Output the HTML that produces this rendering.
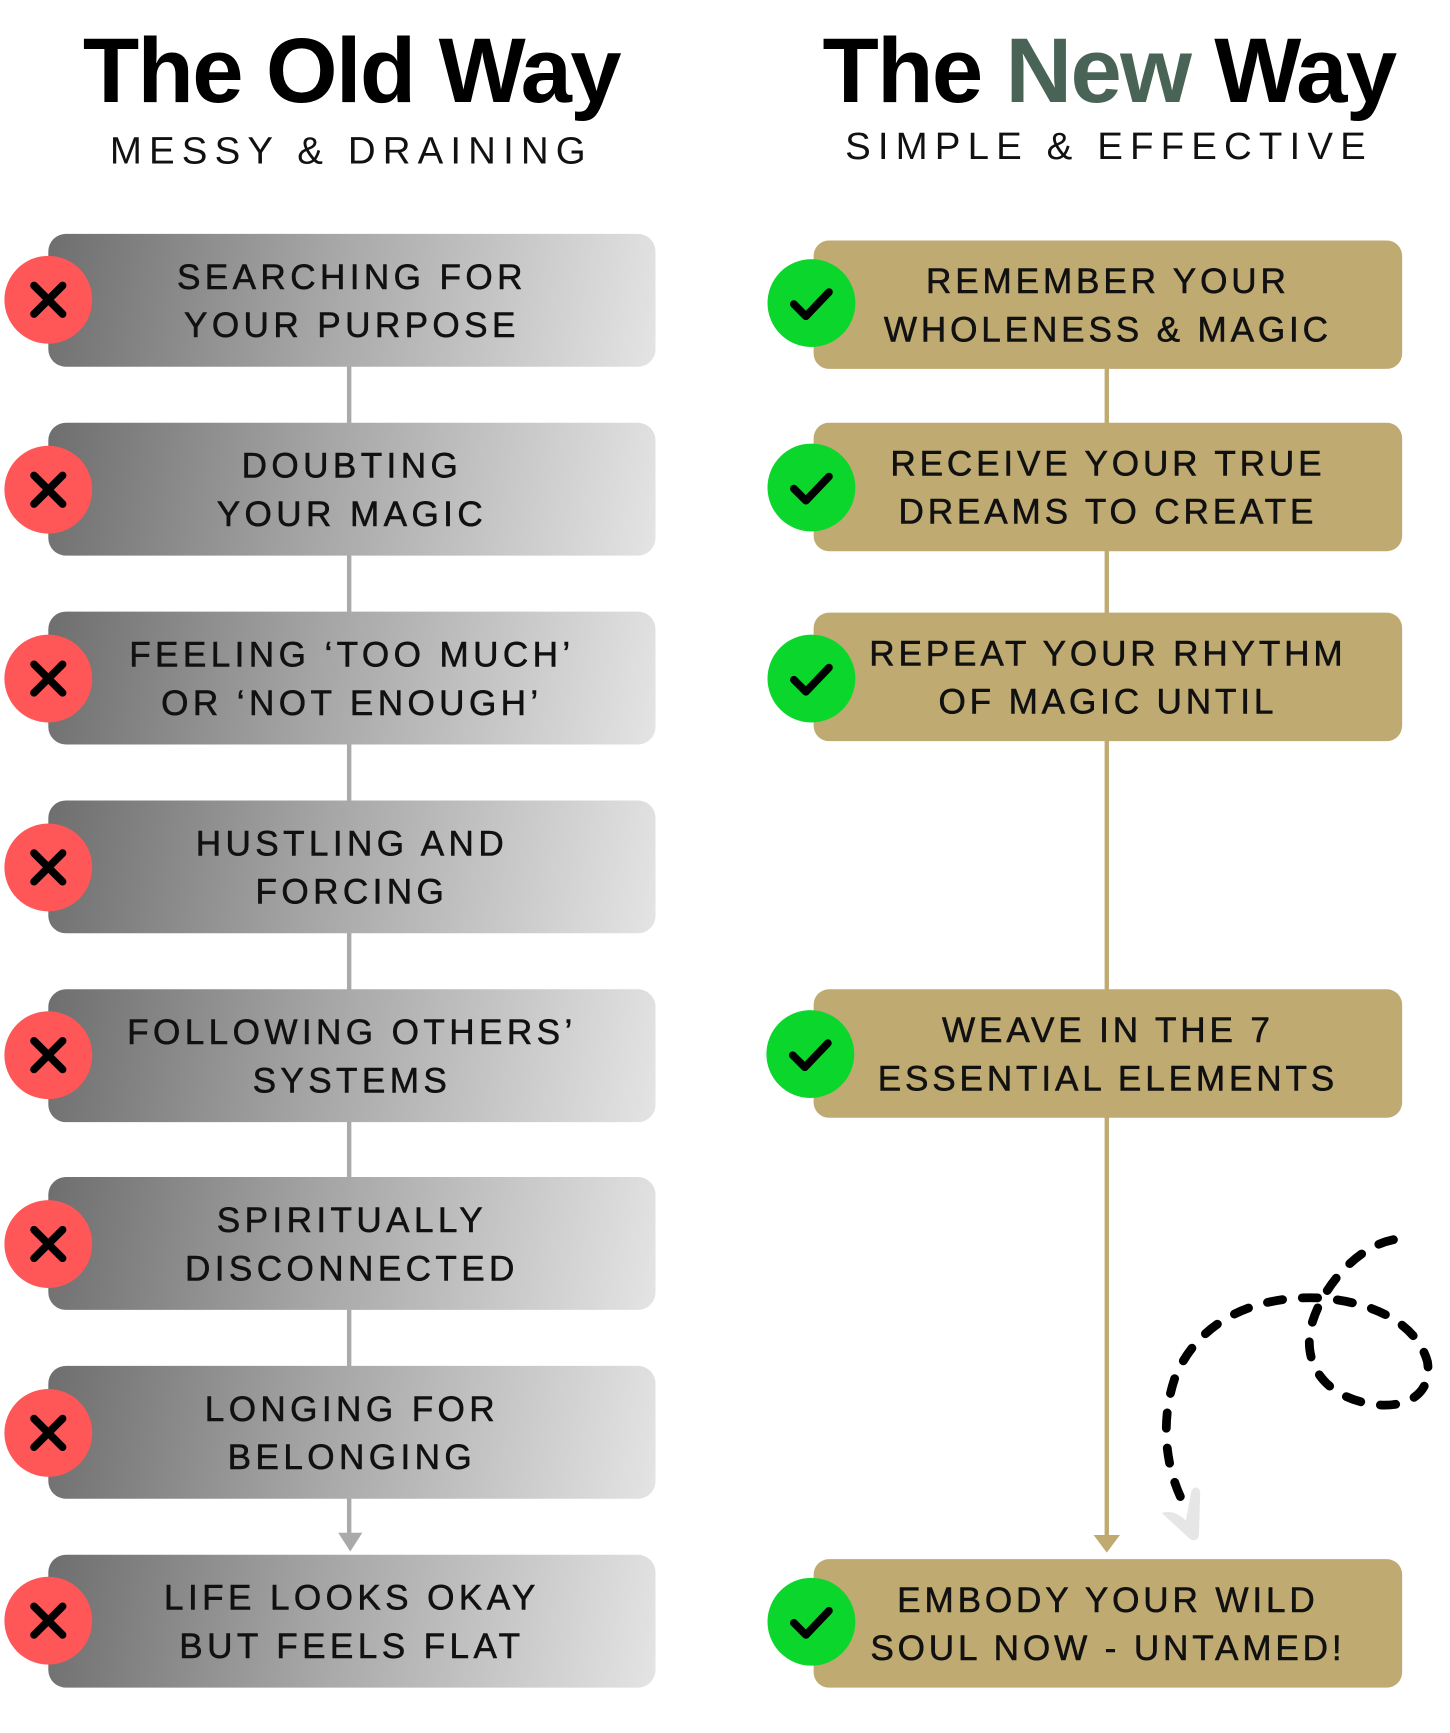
<!DOCTYPE html>
<html><head><meta charset="utf-8"><style>
html,body{margin:0;padding:0;background:#fff;}
body{width:1450px;height:1720px;overflow:hidden;position:relative;}
#w{position:absolute;left:0;top:0;width:1330px;height:1578px;transform:scale(1.098);transform-origin:0 0;font-family:"Liberation Sans",sans-serif;}
.t{position:absolute;font-weight:bold;font-size:84px;letter-spacing:-1.5px;text-align:center;line-height:1;color:#000;}
.s{position:absolute;font-size:35px;letter-spacing:6.5px;text-align:center;line-height:1;color:#111;}
.lb{position:absolute;left:44px;width:553px;height:121px;border-radius:16px;background:linear-gradient(100deg,#6e6e6e 0%,#a6a6a6 45%,#e4e4e4 100%);}
.rb{position:absolute;left:741px;width:536px;height:117px;border-radius:14px;background:#bfaa72;}
.tx{position:absolute;left:0;right:0;top:50%;transform:translateY(-50%);text-align:center;font-size:32px;letter-spacing:4px;line-height:44px;color:#111;-webkit-text-stroke:0.5px #111;}
.rb .tx{letter-spacing:3.5px;}
</style></head><body><div id="w">
<div class="t" style="left:0;width:640px;top:22px;">The Old Way</div>
<div class="s" style="left:0;width:640px;top:120px;">MESSY &amp; DRAINING</div>
<div class="t" style="left:680px;width:660px;top:22px;">The <span style="color:#4a6357">New</span> Way</div>
<div class="s" style="left:680px;width:660px;top:116px;">SIMPLE &amp; EFFECTIVE</div>

<svg width="1330" height="1578" style="position:absolute;left:0;top:0">
<line x1="318" y1="300" x2="318" y2="1400" stroke="#aaa" stroke-width="4"/>
<path d="M308 1396 L330 1396 L319 1413 Z" fill="#aaa"/>
<line x1="1008" y1="300" x2="1008" y2="1400" stroke="#c0aa72" stroke-width="4"/>
<path d="M996 1398 L1020 1398 L1008 1414 Z" fill="#c0aa72"/>
<path d="M1075 1363 C1060 1330 1058 1290 1070 1255 C1090 1205 1140 1180 1200 1182 C1250 1185 1290 1205 1300 1240 C1305 1270 1280 1285 1245 1278 C1205 1270 1185 1240 1195 1205 C1205 1170 1240 1130 1277 1128" fill="none" stroke="#000" stroke-width="8" stroke-linecap="round" stroke-dasharray="14 18"/>
<path d="M1058 1378 C1068 1375 1075 1380 1080 1385 L1085 1358 C1088 1352 1094 1355 1093 1362 L1092 1397 C1092 1403 1086 1405 1082 1400 Z" fill="#e6e6e6"/>
</svg>

<div class="lb" style="top:213px"><div class="tx">SEARCHING FOR<br>YOUR PURPOSE</div></div>
<div class="lb" style="top:385px"><div class="tx">DOUBTING<br>YOUR MAGIC</div></div>
<div class="lb" style="top:557px"><div class="tx">FEELING ‘TOO MUCH’<br>OR ‘NOT ENOUGH’</div></div>
<div class="lb" style="top:729px"><div class="tx">HUSTLING AND<br>FORCING</div></div>
<div class="lb" style="top:901px"><div class="tx">FOLLOWING OTHERS’<br>SYSTEMS</div></div>
<div class="lb" style="top:1072px"><div class="tx">SPIRITUALLY<br>DISCONNECTED</div></div>
<div class="lb" style="top:1244px"><div class="tx">LONGING FOR<br>BELONGING</div></div>
<div class="lb" style="top:1416px"><div class="tx">LIFE LOOKS OKAY<br>BUT FEELS FLAT</div></div>

<div class="rb" style="top:219px"><div class="tx">REMEMBER YOUR<br>WHOLENESS &amp; MAGIC</div></div>
<div class="rb" style="top:385px"><div class="tx">RECEIVE YOUR TRUE<br>DREAMS TO CREATE</div></div>
<div class="rb" style="top:558px"><div class="tx">REPEAT YOUR RHYTHM<br>OF MAGIC UNTIL</div></div>
<div class="rb" style="top:901px"><div class="tx">WEAVE IN THE 7<br>ESSENTIAL ELEMENTS</div></div>
<div class="rb" style="top:1420px"><div class="tx">EMBODY YOUR WILD<br>SOUL NOW - UNTAMED!</div></div>

<svg width="1330" height="1578" style="position:absolute;left:0;top:0">
<defs>
<g id="x"><ellipse cx="0" cy="0" rx="40" ry="40" fill="#ff5757"/><path d="M-13 -13 L13 13 M13 -13 L-13 13" stroke="#000" stroke-width="7" stroke-linecap="round"/></g>
<g id="v"><ellipse cx="0" cy="0" rx="40" ry="40" fill="#0bd62c"/><path d="M-16 1 L-5 12 L16 -10" fill="none" stroke="#000" stroke-width="7" stroke-linecap="round" stroke-linejoin="round"/></g>
</defs>
<use href="#x" x="44" y="273"/><use href="#x" x="44" y="446"/><use href="#x" x="44" y="618"/><use href="#x" x="44" y="790"/>
<use href="#x" x="44" y="961"/><use href="#x" x="44" y="1133"/><use href="#x" x="44" y="1305"/><use href="#x" x="44" y="1476"/>
<use href="#v" x="739" y="276"/><use href="#v" x="739" y="444"/><use href="#v" x="739" y="618"/><use href="#v" x="738" y="960"/><use href="#v" x="739" y="1477"/>
</svg>
</div></body></html>
